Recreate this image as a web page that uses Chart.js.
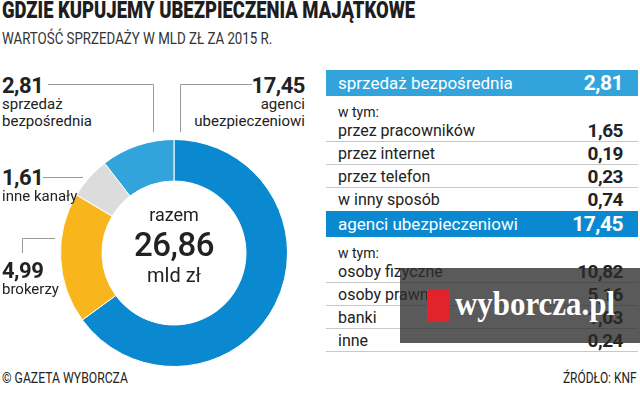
<!DOCTYPE html>
<html lang="pl">
<head>
<meta charset="utf-8">
<script src="https://cdn.jsdelivr.net/npm/chart.js@4.4.0/dist/chart.umd.min.js"></script>
<style>
  html, body { margin: 0; padding: 0; background: #fff; }
  body { width: 640px; height: 393px; position: relative; overflow: hidden;
         font-family: Roboto, "Noto Sans", sans-serif; color: #222; }
  .abs { position: absolute; white-space: nowrap; }
  .fit { display: inline-block; transform-origin: left top; }
  .fitr { display: inline-block; transform-origin: right top; }
  #title { left: 2px; top: -1px; font-size: 23px; line-height: 23px; font-weight: 900; color: #1e1e1e; }
  #subtitle { left: 2px; top: 31px; font-size: 16px; line-height: 16px; color: #333; }
  #chartBox { position: absolute; left: 60px; top: 139px; width: 228px; height: 228px; }
  .big { font-size: 22px; line-height: 22px; font-weight: 700; letter-spacing: -0.5px; }
  .lab { font-size: 15px; line-height: 17px; color: #222; }
  #center { position: absolute; left: 104px; width: 140px; text-align: center; }
  #tbl { position: absolute; left: 326px; top: 70px; width: 312px; }
  .band { height: 26px; color: #fff; display: flex; justify-content: space-between;
          align-items: center; padding: 0 15px 0 12px; box-sizing: border-box; }
  .band .n { font-size: 17px; }
  .band .v { font-size: 21px; font-weight: 700; letter-spacing: -0.5px; }
  .sub { height: 23px; box-sizing: border-box; padding: 9px 0 0 12px; font-size: 14px; line-height: 14px; }
  .row { height: 23px; box-sizing: border-box; border-bottom: 1px solid #c8c8c8;
         display: flex; justify-content: space-between; align-items: center; padding: 0 15px 0 12px; }
  .row .n { font-size: 16px; }
  .row .v { font-size: 19px; font-weight: 700; letter-spacing: -0.5px; }
  #foot1 { left: 2px; top: 371px; font-size: 15px; line-height: 15px; color: #222; }
  #foot2 { right: 3px; top: 371px; font-size: 15px; line-height: 15px; color: #222; }
  #wm { position: absolute; left: 400px; top: 268px; width: 240px; height: 75px; background: rgba(44,44,44,0.78); }
  #wmRed { position: absolute; left: 27px; top: 21px; width: 23px; height: 33px; background: #e3232b; }
  #wmText { position: absolute; left: 55px; top: 16px; font-family: "Liberation Serif", "DejaVu Serif", serif;
            font-weight: 700; font-size: 34px; line-height: 40px; color: #fff; }
</style>
</head>
<body>
<div id="title" class="abs"><span class="fit" data-w="413">GDZIE KUPUJEMY UBEZPIECZENIA MAJĄTKOWE</span></div>
<div id="subtitle" class="abs"><span class="fit" data-w="270">WARTOŚĆ SPRZEDAŻY W MLD ZŁ ZA 2015 R.</span></div>

<svg class="abs" style="left:0;top:0" width="640" height="393">
  <g stroke="#9a9a9a" stroke-width="1" fill="none">
    <polyline points="48,84.5 153.5,84.5 153.5,132"/>
    <polyline points="252,84.5 180.5,84.5 180.5,132"/>
    <polyline points="43,177.5 83,177.5"/>
    <polyline points="22.5,253 22.5,238.5 55,238.5"/>
  </g>
</svg>

<div id="chartBox"><canvas id="donut"></canvas></div>

<div id="labels"></div>

<div id="center">
  <div class="abs" style="left:0;width:140px;top:206px;font-size:18px;line-height:18px;">razem</div>
  <div class="abs" style="left:0;width:140px;top:228px;font-size:33px;line-height:33px;font-weight:500;letter-spacing:-0.5px;" id="totalTxt"></div>
  <div class="abs" style="left:0;width:140px;top:265px;font-size:20px;line-height:20px;">mld zł</div>
</div>

<div id="tbl"></div>

<div id="foot1" class="abs"><span class="fit" data-w="126">© GAZETA WYBORCZA</span></div>
<div id="foot2" class="abs"><span class="fitr" data-w="74">ŹRÓDŁO: KNF</span></div>

<div id="wm"><div id="wmRed"></div><div id="wmText"><span class="fit" data-w="160">wyborcza.pl</span></div></div>

<script>
// kanały sprzedaży (mld zł, 2015)
const channels = ['agenci ubezpieczeniowi', 'brokerzy', 'inne kanały', 'sprzedaż bezpośrednia'];
const channelValues = [17.45, 4.99, 1.61, 2.81];
const channelColors = ['#0b89d0', '#f9b61c', '#dcdcdc', '#33a3dc'];

// rozbicie w tabeli
const directNames = ['przez pracowników', 'przez internet', 'przez telefon', 'w inny sposób'];
const directValues = [1.65, 0.19, 0.23, 0.74];
const agentNames = ['osoby fizyczne', 'osoby prawne', 'banki', 'inne'];
const agentValues = [10.82, 5.16, 1.03, 0.24];

const fmt = v => v.toFixed(2).replace('.', ',');
const total = channelValues.reduce((a, b) => a + b, 0);
document.getElementById('totalTxt').textContent = fmt(total);

// podpisy wokół wykresu
const labelSpots = [
  { i: 3, lines: ['sprzedaż', 'bezpośrednia'], x: 2, top: 75, align: 'left' },
  { i: 0, lines: ['agenci', 'ubezpieczeniowi'], x: 335, top: 75, align: 'right' },
  { i: 2, lines: ['inne kanały'], x: 2, top: 167, align: 'left' },
  { i: 1, lines: ['brokerzy'], x: 2, top: 260, align: 'left' }
];
const labelsEl = document.getElementById('labels');
labelSpots.forEach(s => {
  const side = s.align === 'left' ? 'left' : 'right';
  const big = document.createElement('div');
  big.className = 'abs big';
  big.style[side] = s.x + 'px';
  big.style.top = s.top + 'px';
  big.style.textAlign = s.align;
  big.textContent = fmt(channelValues[s.i]);
  labelsEl.appendChild(big);
  const sm = document.createElement('div');
  sm.className = 'abs lab';
  sm.style[side] = s.x + 'px';
  sm.style.top = (s.top + 21) + 'px';
  sm.style.textAlign = s.align;
  sm.innerHTML = s.lines.join('<br>');
  labelsEl.appendChild(sm);
});

// tabela
const tbl = document.getElementById('tbl');
function section(title, value, color, names, values) {
  const b = document.createElement('div');
  b.className = 'band';
  b.style.background = color;
  b.innerHTML = `<span class="n">${title}</span><span class="v">${fmt(value)}</span>`;
  tbl.appendChild(b);
  const s = document.createElement('div');
  s.className = 'sub';
  s.textContent = 'w tym:';
  tbl.appendChild(s);
  names.forEach((n, k) => {
    const r = document.createElement('div');
    r.className = 'row';
    r.innerHTML = `<span class="n">${n}</span><span class="v">${fmt(values[k])}</span>`;
    tbl.appendChild(r);
  });
}
section(channels[3], channelValues[3], channelColors[3], directNames, directValues);
tbl.lastChild.style.borderBottom = 'none';
section(channels[0], channelValues[0], channelColors[0], agentNames, agentValues);

// wykres pierścieniowy
const ctx = document.getElementById('donut').getContext('2d');
new Chart(ctx, {
  type: 'doughnut',
  data: {
    labels: channels,
    datasets: [{
      data: channelValues,
      backgroundColor: channelColors,
      borderColor: '#ffffff',
      borderWidth: 1,
      hoverOffset: 0,
      offset: 0
    }]
  },
  options: {
    responsive: true,
    maintainAspectRatio: false,
    animation: false,
    cutout: 72,
    rotation: 0,
    layout: { padding: 0 },
    plugins: { legend: { display: false }, tooltip: { enabled: false } },
    events: []
  }
});

// zwężenie tekstów pisanych krojem condensed
function fitAll() {
  document.querySelectorAll('.fit, .fitr').forEach(el => {
    const w = +el.dataset.w;
    el.style.transform = `scaleX(${w / el.scrollWidth})`;
  });
}
fitAll();
if (document.fonts) document.fonts.ready.then(fitAll);
</script>
</body>
</html>
